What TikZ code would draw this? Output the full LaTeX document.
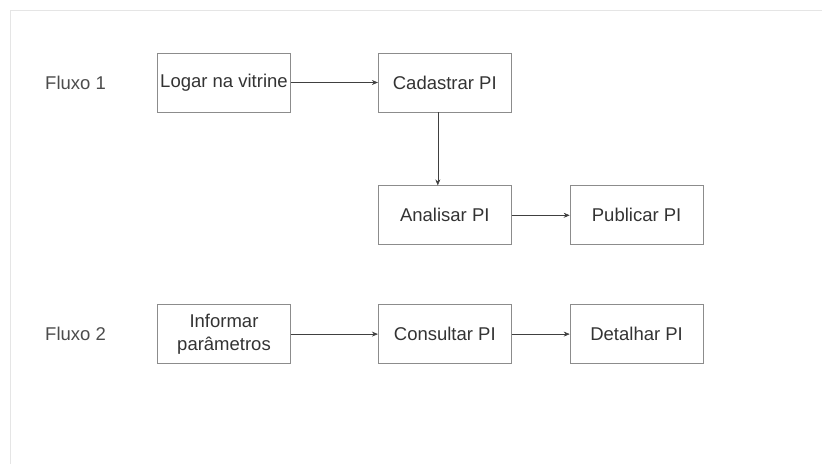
\documentclass[tikz,border=0pt]{standalone}
\usepackage{fontspec}
\setmainfont{Liberation Sans}
\usetikzlibrary{positioning}
\usetikzlibrary{arrows.meta}
\tikzset{
	>={Stealth[length=6pt,width=5pt]},
	etapa/.style={
		rectangle,
		draw=black!45, thick,
		text=black!80,
		minimum width=133pt,
		minimum height=59pt,
		inner sep=0pt,
		align=center},
	rotulo/.style={
		inner sep=0pt,
		text=black!70},
	seta/.style={draw=black!75, ->, semithick},
	moldura/.style={draw=black!10, thick},
}
\begin{document}
\begin{tikzpicture}
	[x=1pt, y=1pt, node distance=73pt and 87pt, font=\fontsize{18.5}{23}\selectfont]
	\useasboundingbox (0,0) rectangle (822,-464);
	\draw[moldura] (10,-464) -- (10,-10) -- (822,-10);
	% fluxo 1
	\node[etapa] (logar) at (224,-82.5) {Logar na vitrine};
	\node[etapa, right=of logar] (cadastrar) {Cadastrar PI};
	\node[etapa, below=of cadastrar] (analisar) {Analisar PI};
	\node[etapa, right=58pt of analisar] (publicar) {Publicar PI};
	\node[rotulo, left=51pt of logar] (fluxo1) {Fluxo 1};
	% fluxo 2
	\node[etapa, below=59pt of analisar] (consultar) {Consultar PI};
	\node[etapa, left=of consultar] (informar) {Informar\\par\^ametros};
	\node[etapa, right=58pt of consultar] (detalhar) {Detalhar PI};
	\node[rotulo, left=51pt of informar] (fluxo2) {Fluxo 2};
	% setas
	\draw[seta] (logar) -- (cadastrar);
	\draw[seta] ([xshift=-7pt]cadastrar.south) -- ([xshift=-7pt]analisar.north);
	\draw[seta] (analisar) -- (publicar);
	\draw[seta] (informar) -- (consultar);
	\draw[seta] (consultar) -- (detalhar);
\end{tikzpicture}
\end{document}
